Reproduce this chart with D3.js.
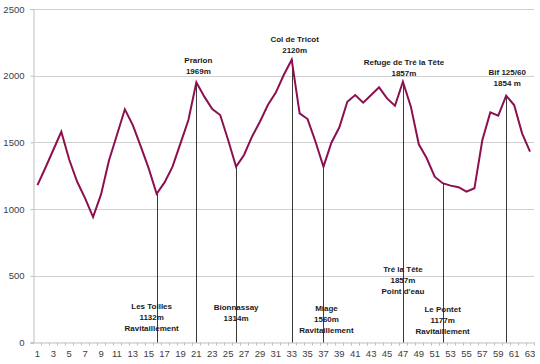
<!DOCTYPE html>
<html>
<head>
<meta charset="utf-8">
<script src="https://cdn.jsdelivr.net/npm/d3@7"></script>
<style>
  body { margin: 0; background: #fff; }
  svg { display: block; font-family: "Liberation Sans", Arial, sans-serif; }
</style>
</head>
<body>
<svg class="svg"></svg>
<script>
// kilometre markers along the course
let km = [1,2,3,4,5,6,7,8,9,10,11,12,13,14,15,16,17,18,19,20,21,
          22,23,24,25,26,27,28,29,30,31,32,33,34,35,36,37,38,39,40,41,42,
          43,44,45,46,47,48,49,50,51,52,53,54,55,56,57,58,59,60,61,62,63]
// elevation in metres
let altitude = [1180,1310,1445,1580,1370,1205,1080,940,1110,1365,1555,1748,1630,1470,1305,1115,
                1200,1318,1493,1668,1950,1843,1750,1705,1518,1318,1406,1543,1655,1780,1873,2005,
                2120,1718,1675,1505,1318,1498,1613,1805,1855,1798,1855,1913,1830,1775,1955,1768,
                1486,1381,1243,1194,1176,1164,1131,1156,1518,1725,1700,1850,1780,1568,1431]
let yTicks = [0,500,1000,1500,2000,2500]
let xTickLabels = km.filter((d) => d % 2 === 1)

// passage points (km index + text lines)
let topPoints = [21,33,47,60]
let topTexts = [["Prarion","1969m"],["Col de Tricot","2120m"],["Refuge de Tré la Tête","1857m"],["Bif 125/60","1854 m"]]
let bottomPoints = [16,26,37,47,52]
let bottomTexts = [["Les Toilles","1132m","Ravitaillement"],["Bionnassay","1314m"],["Miage","1560m","Ravitaillement"],
                   ["Tré la Tête","1857m","Point d'eau"],["Le Pontet","1177m","Ravitaillement"]]

let width = 540, height = 364
let plotLeft = 33.5, plotRight = 534, plotTop = 9, plotBottom = 342.5

let svg = d3.select(".svg").attr("width", width).attr("height", height)

let x = d3.scaleBand().domain(km).range([plotLeft, plotRight])
let y = d3.scaleLinear().domain([0, 2500]).range([plotBottom, plotTop])
let cx = (d) => x(d) + x.bandwidth() / 2

// gridlines
svg.append("g")
  .selectAll("line")
  .data(yTicks.slice(1))
  .enter()
  .append("line")
  .attr("x1", plotLeft).attr("x2", plotRight)
  .attr("y1", (d) => Math.round(y(d)) + 0.5)
  .attr("y2", (d) => Math.round(y(d)) + 0.5)
  .attr("stroke", "#d0d0d0")
  .attr("stroke-width", 1)

// y axis
let yAxis = svg.append("g")
  .attr("transform", "translate(" + plotLeft + ",0)")
  .call(d3.axisLeft(y).tickValues(yTicks).tickSize(3).tickPadding(6).tickFormat(d3.format("d")))
yAxis.select(".domain").attr("stroke", "#bdbdbd")
yAxis.selectAll(".tick line").attr("stroke", "#bdbdbd")
yAxis.selectAll("text").attr("fill", "#404040").style("font-size", "9.5px").attr("font-family", "Liberation Sans")

// x axis
let xAxis = svg.append("g")
  .attr("transform", "translate(0," + plotBottom + ")")
  .call(d3.axisBottom(x).tickValues(xTickLabels).tickSize(0).tickPadding(8))
xAxis.select(".domain").attr("stroke", "#bdbdbd").attr("d", "M" + (plotLeft - 3) + ",0.5H" + plotRight)
xAxis.selectAll("text").attr("fill", "#404040").style("font-size", "9.5px").attr("font-family", "Liberation Sans")
xAxis.selectAll(".minor")
  .data(km)
  .enter()
  .append("line")
  .attr("class", "minor")
  .attr("x1", (d) => Math.round(x(d) + x.bandwidth()) + 0.5)
  .attr("x2", (d) => Math.round(x(d) + x.bandwidth()) + 0.5)
  .attr("y1", 0).attr("y2", 3)
  .attr("stroke", "#bdbdbd")

// drop lines from passage points
let allPoints = topPoints.concat(bottomPoints.filter((d) => topPoints.indexOf(d) < 0))
svg.append("g")
  .selectAll("line")
  .data(allPoints)
  .enter()
  .append("line")
  .attr("x1", (d) => Math.round(cx(d)) + 0.5)
  .attr("x2", (d) => Math.round(cx(d)) + 0.5)
  .attr("y1", (d) => y(altitude[d - 1]))
  .attr("y2", plotBottom)
  .attr("stroke", "#3a3a3a")
  .attr("stroke-width", 1)

// profile line
svg.append("path")
  .datum(altitude)
  .attr("d", d3.line().x((d, i) => cx(km[i])).y((d) => y(d)))
  .attr("fill", "none")
  .attr("stroke", "#8c1050")
  .attr("stroke-width", 2)
  .attr("stroke-linejoin", "miter")

// labels above the peaks
let topShift = [2, 3, 1, 1]
let topRaise = [11, 10, 9, 13]
topPoints.forEach((p, k) => {
  let lines = topTexts[k]
  let g = svg.append("text")
    .attr("text-anchor", "middle")
    .attr("font-weight", "bold")
    .style("font-size", "8px")
    .attr("fill", "#1a1a1a")
  lines.forEach((t, j) => {
    g.append("tspan")
      .attr("x", cx(p) + topShift[k])
      .attr("y", y(altitude[p - 1]) - topRaise[k] - (lines.length - 1 - j) * 11 + 3)
      .text(t)
  })
})

// labels near the bottom
let bottomShift = [-5, 0, 3, 0, 0]
let bottomY = [306, 306.7, 308, 269, 309.3]
bottomPoints.forEach((p, k) => {
  let lines = bottomTexts[k]
  let g = svg.append("text")
    .attr("text-anchor", "middle")
    .attr("font-weight", "bold")
    .style("font-size", "8px")
    .attr("fill", "#1a1a1a")
  lines.forEach((t, j) => {
    g.append("tspan")
      .attr("x", cx(p) + bottomShift[k])
      .attr("y", bottomY[k] + j * 11 + 3)
      .text(t)
  })
})
</script>
</body>
</html>
